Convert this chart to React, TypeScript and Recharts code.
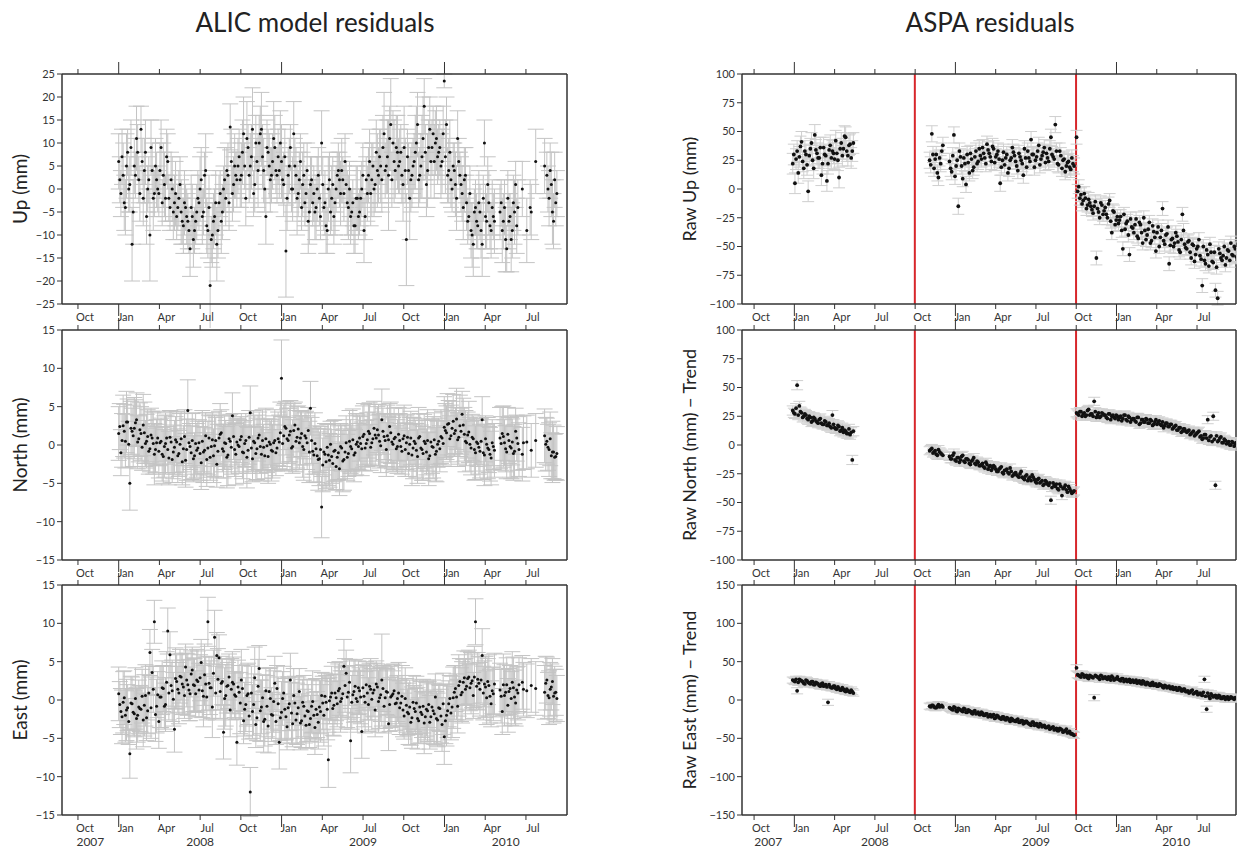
import React from 'react';
import { ScatterChart, Scatter, XAxis, YAxis, ErrorBar, ReferenceLine } from 'recharts';

const FONT = 'Lato, "Open Sans", "DejaVu Sans", sans-serif';
const BORDER = '#333';
const STEP = 5 / 365.25; // one sample every 5 days; the "B" lists sit half a step later

// x axis: quarter ticks and their labels
const quarterTicks = [2007.75, 2008.0, 2008.25, 2008.5, 2008.75, 2009.0, 2009.25, 2009.5, 2009.75, 2010.0, 2010.25, 2010.5];
const quarterLabels = ['Oct', 'Jan', 'Apr', 'Jul', 'Oct', 'Jan', 'Apr', 'Jul', 'Oct', 'Jan', 'Apr', 'Jul'];
const years = [2007, 2008, 2009, 2010];

const alicDomain: [number, number] = [2007.652, 2010.752];
const aspaDomain: [number, number] = [2007.675, 2010.742];
const offsetEvents = [2008.748, 2009.749];

// y axis ticks
const mm25 = [-25, -20, -15, -10, -5, 0, 5, 10, 15, 20, 25];
const mm15 = [-15, -10, -5, 0, 5, 10, 15];
const mm100 = [-100, -75, -50, -25, 0, 25, 50, 75, 100];
const mm150 = [-150, -100, -50, 0, 50, 100, 150];

// ALIC residuals (mm), from 2008.0
const alicStart = 2008.0;
const alicUp = [
  6, -1, 3, -4, 8, 1, -12, 5, 11, 2, 13, -2, 8, 0, -10, 4, -1, 2,
  -1, 9, 3, -2, 6, -4, 0, -3, -6, -2, -5, -8, -4, -7, -13, -6, -9, -5,
  -3, 2, -5, 4, -9, -21, -10, -6, -12, -3, -7, 0, -2, 3, 13.5, -1, 5, 2,
  7, 3, 12, -2, 9, 5, 13, 1, 6, 10, 13, 4, -6, 8, 2, 6, 9, 3,
  4, 6, 1, -13.5, 3, 9, 0, 5, -2, 2, -4, 3, -1, -7, 1, -3, -5, 0,
  -2, 10, -4, -8, 0, -5, 1, -3, 3, 2, 4, -1, 1, -4, -6, -3, -8, -2,
  -5, 0, -9, 2, 3, -1, 5, 1, 4, 7, 2, 12, 5, 3, 14, 10, 4, 8,
  6, 3, 9, -11, 4, 2, 5, 8, 14, 3, 7, 18, 1, 9, 6, 12, 10, 7,
  9, 6, 23.5, 14, 4, 2, 5, 1, 11, 3, -1, 2, -3, -6, -9, -12, -4, -8,
  -5, -12, 10, -7, -3, -9, -6, null, null, -5, -9, -4, -13, -7, -11, -3, 1, -4,
  null, 0, null, -9, null, -5, null, 6, null, null, null, 5, 3, -2, 1, -7, -3,
];
const alicUpB = [
  2, 7, -3, 5, 0, 9, -5, 3, 8, -1, 6, 4, -6, 2, 9, -2, 5, 0,
  4, -3, 1, 7, -2, 2, -5, -1, -4, 1, -7, -3, -6, -9, -4, -11, -7, -2,
  0, -6, 3, -8, -4, -11, -7, -3, -9, -1, -5, 2, 4, -3, 6, 1, 3, 5,
  2, 8, 5, 11, 3, 7, -1, 10, 4, 12, 7, 0, 9, 5, 3, 11, 4, 7,
  10, 2, 7, -2, 5, 0, 12, 3, -1, 6, 1, -3, 4, -5, 2, -1, -4, 3,
  -6, 1, -3, -9, 2, -2, -6, 0, 4, -1, 2, 6, -3, 0, -5, -8, -2, -6,
  -2, 3, -6, -1, 6, 2, 0, 8, 3, 5, 9, 4, 7, 11, 2, 6, 9, 5,
  8, 1, 4, 7, -2, 3, 6, 10, 2, 5, 11, 8, 4, 13, 9, 6, 11, 8,
  5, 12, 7, 3, 8, 0, 4, -2, 6, 1, -4, 3, -7, -1, -10, -5, -7, -3,
  -9, -2, -6, 1, -8, -4, -7, null, null, -3, -7, -11, -2, -6, -9, -5, -8, null,
  null, null, null, null, -4, null, null, null, null, null, null, null, 0, 4, -5, 2, -1,
];
const alicUpErr = [
  6, 5, 7, 6, 5, 6, 8, 6, 7, 5, 5, 6, 7, 5, 10, 6, 5, 6,
  5, 6, 7, 5, 6, 5, 7, 6, 5, 6, 7, 6, 5, 6, 6, 7, 5, 6,
  6, 7, 5, 8, 6, 12, 7, 6, 8, 6, 7, 5, 6, 7, 5, 6, 7, 6,
  6, 7, 8, 6, 5, 7, 9, 6, 5, 6, 8, 7, 6, 5, 7, 6, 7, 6,
  6, 8, 7, 10, 6, 5, 7, 6, 8, 6, 5, 7, 6, 7, 6, 5, 6, 7,
  6, 7, 5, 6, 7, 5, 6, 7, 5, 6, 7, 6, 5, 7, 6, 5, 6, 7,
  5, 6, 7, 5, 6, 7, 5, 6, 8, 6, 7, 9, 6, 12, 10, 7, 6, 8,
  7, 6, 9, 10, 6, 7, 6, 8, 7, 6, 9, 6, 7, 6, 8, 6, 7, 6,
  6, 7, 1.5, 6, 7, 6, 5, 7, 6, 5, 6, 7, 6, 5, 6, 7, 6, 5,
  6, 7, 5, 6, 7, 6, 5, 6, 6, 6, 7, 6, 5, 6, 7, 6, 5, 6,
  6, 6, 6, 7, 6, 6, 6, 7, 6, 6, 6, 6, 5, 6, 7, 6, 5,
];
const alicUpErrB = [
  5, 6, 6, 7, 5, 6, 7, 5, 6, 6, 5, 7, 6, 5, 6, 7, 6, 5,
  6, 5, 7, 6, 5, 6, 6, 7, 5, 6, 5, 7, 6, 5, 7, 6, 5, 6,
  7, 6, 5, 6, 7, 5, 6, 7, 6, 5, 6, 7, 5, 6, 7, 6, 5, 6,
  6, 7, 5, 8, 6, 7, 5, 6, 8, 6, 7, 5, 6, 7, 6, 8, 5, 6,
  7, 5, 6, 7, 6, 5, 7, 6, 5, 6, 7, 5, 6, 7, 5, 6, 7, 6,
  5, 6, 7, 5, 6, 7, 6, 5, 6, 7, 5, 6, 7, 6, 5, 6, 7, 5,
  6, 7, 5, 6, 7, 8, 6, 7, 6, 8, 7, 6, 8, 7, 6, 9, 7, 6,
  6, 8, 7, 6, 9, 7, 6, 8, 6, 7, 9, 6, 8, 7, 6, 8, 7, 6,
  7, 6, 8, 6, 7, 5, 6, 7, 5, 6, 7, 6, 5, 6, 7, 5, 6, 7,
  6, 5, 7, 6, 5, 6, 7, 6, 6, 5, 6, 7, 6, 5, 6, 7, 6, 6,
  6, 6, 6, 6, 6, 6, 6, 6, 6, 6, 6, 6, 5, 6, 7, 6, 5,
];
const alicNorth = [
  1.5, -1, 2.5, 0.5, 3, -5, 1.8, 2.2, 3.3, 0.8, 1.5, 2.6, 0.2, 1.1, -0.5, 0.9, -1.2, 0.3,
  -0.8, 0.5, -1.5, 0.2, -0.6, 1.0, -1.9, -0.3, 0.4, -1.1, 0.8, -0.5, -2.0, 4.5, -0.2, 0.6, -1.4, -0.7,
  0.3, -2.3, -0.9, 1.2, -0.4, -1.6, 0.7, -0.1, -2.5, 0.9, 1.6, -0.8, 0.2, -1.3, 0.5, 3.8, -0.6, 0.4,
  -0.2, 1.1, -1.0, 0.6, -0.7, 4.2, -1.8, 0.3, -0.5, 1.3, -1.2, -0.3, 0.8, -1.5, 0.1, -0.8, 0.6, -0.4,
  0.4, 8.7, 1.2, 2.2, 0.6, 1.8, -0.2, 2.6, 1.0, 0.3, 1.5, -0.6, 0.9, 1.9, 4.8, -0.8, 0.2, -1.4,
  -1.8, -8.1, -0.9, -2.2, -1.3, 0.1, -2.4, -0.7, -1.6, -3.1, -0.4, -1.9, 0.3, -1.1, -0.2, 0.7, -1.0, 0.4,
  0.9, -0.5, 1.4, 0.2, 1.8, -0.3, 0.8, 1.3, 2.0, 0.5, 3.3, 1.1, -0.6, 0.7, 1.6, 0.1, 1.0, -0.2,
  0.6, -0.8, 1.2, 0.3, -1.1, 0.9, -0.4, 0.2, -1.5, 1.1, -0.6, 0.5, -0.9, -1.8, 0.4, -0.3, -1.2, 0.1,
  -0.5, 0.9, 2.3, 1.6, 2.8, 1.2, 3.1, 1.9, 0.7, 2.5, 4.0, 1.4, 0.3, 1.7, -0.4, 0.8, -1.0, 0.2,
  -0.8, 3.3, -1.3, 0.1, -0.6, -1.7, -0.2, null, null, 0.9, 1.5, 0.3, -0.9, 0.6, -0.4, -1.1, 1.8, 0.2,
  null, -1.2, null, 0.4, null, -0.7, null, 0.6, null, null, null, 1.2, 0.5, -0.6, -1.4, -0.9, -1.5,
];
const alicNorthB = [
  2.4, 0.6, 1.8, 3.0, 0.1, 2.2, 1.2, 2.9, 0.4, 2.0, -0.3, 1.6, 0.5, -0.8, 1.3, 0.2, -0.6, 0.9,
  0.3, -1.2, -0.2, 0.9, -1.7, 0.4, -0.9, 0.7, -1.4, 0.1, -2.2, 1.1, -0.6, 0.3, -1.0, -1.8, 0.2, -0.4,
  -1.1, 0.5, -0.7, -1.9, 0.9, -0.2, -1.4, 0.6, -0.8, 1.4, -0.5, 0.3, -1.6, 0.8, -0.3, 1.1, -1.2, 0.0,
  0.7, -0.9, 0.2, -1.6, 1.0, -0.4, 0.5, -1.1, 0.9, -0.2, 0.6, -1.4, -0.1, 0.4, -0.7, 0.3, -1.0, 0.8,
  1.6, 0.2, 2.4, 0.8, 1.3, -0.4, 1.9, 0.5, 2.1, 0.9, -0.2, 1.2, 0.3, -0.9, 0.6, -1.3, -0.5, -1.9,
  -0.6, -2.6, -1.2, -0.3, -2.0, -1.5, -0.8, -2.8, -1.0, -0.2, -2.1, -0.9, -1.6, 0.5, -0.5, -1.3, 0.1, -0.2,
  0.2, 1.1, -0.4, 0.7, 1.5, 0.3, 2.2, 0.9, 1.3, -0.1, 1.8, 0.6, 1.2, 2.4, 0.4, 0.8, -0.5, 1.4,
  -0.2, 0.8, -0.6, 1.0, 0.1, -1.3, 0.5, -0.7, 0.9, -0.4, -1.1, 0.2, 0.6, -1.4, -0.2, 0.7, -0.8, 0.5,
  1.1, 0.2, 1.9, 2.7, 0.8, 2.2, 1.5, 3.4, 1.0, 1.8, 2.6, 0.5, 1.3, 0.1, 1.0, -0.6, 0.4, -0.3,
  0.5, -1.0, 0.8, -0.4, -1.2, 0.3, -0.7, null, null, 0.2, 1.1, -0.5, 1.4, -0.2, 0.4, -0.8, 0.9, -0.6,
  null, 0.3, null, null, null, null, null, null, null, null, null, 0.1, -0.3, 0.8, -0.9, -1.6, -1.1,
];
const alicNorthErr = [
  3.5, 3, 4, 3.5, 3, 3.5, 3, 4, 3.5, 3, 3.5, 4, 3, 3.5, 3, 3.5, 4, 3,
  3.5, 3, 3.5, 4, 3, 3.5, 3, 3.5, 4, 3, 3.5, 3, 3.5, 4, 3, 3.5, 3, 3.5,
  3, 3.5, 4, 3, 3.5, 3, 3.5, 4, 3, 3.5, 3, 3.5, 3, 4, 3.5, 3, 3.5, 3,
  3.5, 3, 4, 3.5, 3, 3.5, 3, 3.5, 4, 3, 3.5, 3, 4, 3.5, 3, 3.5, 4, 3,
  3.5, 5, 4, 3.5, 3, 4, 3.5, 3, 4, 3.5, 3, 4, 3.5, 3, 3.5, 3, 4, 3.5,
  3.5, 4, 3, 3.5, 4, 3, 3.5, 4, 3, 3.5, 3, 4, 3.5, 3, 3.5, 4, 3, 3.5,
  3, 3.5, 4, 3, 3.5, 3, 3.5, 4, 3, 3.5, 4, 3, 3.5, 3, 4, 3.5, 3, 3.5,
  3.5, 3, 4, 3.5, 3, 3.5, 4, 3, 3.5, 3, 4, 3.5, 3, 3.5, 3, 4, 3.5, 3,
  3, 3.5, 4, 3.5, 3, 4, 3.5, 3, 3.5, 4, 3, 3.5, 3, 4, 3.5, 3, 3.5, 3,
  3.5, 3, 4, 3.5, 3, 3.5, 3, 3, 3, 4, 3.5, 3, 3.5, 3, 4, 3.5, 3, 3.5,
  3, 3.5, 3, 3.5, 3, 3.5, 3, 3.5, 3, 3, 3, 3.5, 3, 3.5, 3, 3.5, 3,
];
const alicNorthErrB = [
  3, 3.5, 3.5, 4, 3, 3.5, 4, 3, 3.5, 3.5, 3, 4, 3.5, 3, 3.5, 4, 3, 3.5,
  3, 3.5, 4, 3, 3.5, 4, 3.5, 3, 3.5, 4, 3, 3.5, 4, 3, 3.5, 3, 4, 3.5,
  3.5, 4, 3, 3.5, 3, 4, 3.5, 3, 3.5, 4, 3, 3.5, 4, 3, 3.5, 3, 4, 3.5,
  3, 3.5, 3, 4, 3.5, 3, 4, 3.5, 3, 3.5, 4, 3, 3.5, 3, 4, 3.5, 3, 3.5,
  4, 3.5, 3, 4, 3.5, 3, 3.5, 4, 3, 3.5, 4, 3, 3.5, 4, 3, 3.5, 3, 4,
  3, 3.5, 4, 3, 3.5, 3.5, 4, 3, 3.5, 3, 4, 3.5, 3, 4, 3, 3.5, 4, 3,
  3.5, 4, 3, 3.5, 4, 3, 3.5, 3, 4, 3.5, 3, 3.5, 4, 3, 3.5, 4, 3, 3.5,
  3, 4, 3.5, 3, 3.5, 4, 3, 3.5, 4, 3, 3.5, 3, 4, 3, 3.5, 3.5, 4, 3,
  3.5, 3, 3.5, 4, 3, 3.5, 3, 4, 3.5, 3, 3.5, 4, 3, 3.5, 3, 4, 3, 3.5,
  3, 3.5, 3, 4, 3.5, 3, 3.5, 3, 3, 3.5, 4, 3, 3.5, 4, 3, 3.5, 3, 3.5,
  3, 3.5, 3, 3, 3, 3, 3, 3, 3, 3, 3, 3.5, 3, 3.5, 4, 3, 3.5,
];
const alicEast = [
  0.8, -1.5, -0.3, -2.0, -1.0, -7.0, -0.5, -1.8, -2.4, -0.9, -1.2, -2.6, 0.6, -1.4, 6.2, 3.6, 10.2, -0.8,
  -2.8, 0.4, 1.5, -0.6, 9.0, 5.9, 1.2, -3.8, 2.4, 0.9, 3.0, 1.7, 4.3, 2.0, 0.8, 3.9, 1.9, 2.6,
  1.3, 4.9, 0.5, 2.1, 10.2, 1.6, -0.9, 8.2, 5.8, 5.5, 2.2, -4.2, 0.6, 1.9, -1.3, 2.3, 0.7, -5.5,
  1.0, 2.6, -2.7, -0.6, 0.8, -12.0, -1.5, 2.9, -2.3, 4.1, -0.9, -2.8, 1.2, -3.4, 0.2, -2.0, 2.2, 1.5,
  -5.5, -1.6, 0.9, -2.2, -1.0, 2.6, -3.1, -0.4, -1.8, 1.1, -2.7, -0.8, -3.3, -1.5, -2.4, -0.2, -3.6, -1.9,
  -0.9, 0.6, -2.0, -0.3, -7.8, 0.4, -1.1, 0.9, -0.5, 1.5, 0.2, 4.4, 3.5, 1.0, -5.3, 0.7, 1.8, -0.2,
  1.2, -4.1, 0.5, 2.0, -0.6, 1.4, 0.9, -1.3, 1.7, 0.3, 2.6, -0.8, 1.1, -3.1, 0.4, 0.8, -0.5, 0.2,
  -1.0, 0.5, -2.1, -0.7, -1.8, -2.9, -0.3, -1.5, -2.4, -0.9, -1.9, -3.0, -1.2, -0.6, -2.2, -1.4, 0.4, -2.6,
  -1.1, -3.2, -4.8, -2.0, -0.5, -1.7, 0.3, 1.5, -0.8, 2.4, 1.0, 2.9, 1.8, 3.0, 2.2, 0.6, 10.2, 2.7,
  1.4, 5.8, 2.1, 0.3, 1.9, -0.5, 0.8, null, null, 1.3, -1.5, 0.6, 2.0, 1.1, 0.2, 1.6, -0.4, 0.9,
  null, 2.3, null, 1.2, null, 1.9, null, 1.5, null, null, null, 1.0, 2.6, 0.3, 1.7, 0.5, 1.0,
];
const alicEastB = [
  -0.6, -2.2, 0.3, -1.3, -2.8, -0.4, -1.6, 0.2, -2.0, -1.1, 0.5, -0.7, -2.3, 0.9, -1.0, 1.4, -1.9, 0.7,
  0.4, 1.6, -0.8, 2.3, 0.9, 1.9, 0.1, 2.8, 1.4, 3.1, 2.1, 0.6, 2.6, 1.3, 3.4, 2.0, 0.8, 2.4,
  2.9, 1.2, 3.3, 0.4, 2.2, 1.6, 3.5, 0.9, 2.7, 1.1, 2.4, 0.2, 1.8, 3.0, 1.4, 2.1, 0.5, 1.7,
  -0.4, 1.5, -1.2, 0.6, -2.1, 0.9, -0.6, -3.2, 1.8, -1.4, 0.3, -2.5, -0.8, 1.1, -1.9, -0.2, -2.8, -0.5,
  -2.3, 0.2, -1.2, -3.5, -0.5, -1.7, 0.6, -2.6, -1.0, -3.0, -0.3, -2.1, -1.4, -3.2, -0.8, -2.0, -1.2, -2.9,
  -1.5, -0.4, 0.5, -1.2, -0.1, 0.9, -0.7, 0.3, 1.2, -0.2, 0.8, 1.9, 0.4, 2.3, -0.3, 1.1, 0.2, 1.6,
  0.4, 1.6, -0.3, 0.9, 1.8, 0.1, 1.3, 2.1, -0.2, 0.7, 1.5, 0.3, 1.0, -0.6, 0.6, 1.2, -0.4, 0.9,
  -0.4, -1.3, 0.2, -1.6, -0.9, -2.3, -1.1, -0.4, -2.7, -1.6, -0.8, -2.2, -1.4, -2.9, -0.9, -1.8, -2.4, -1.0,
  -2.1, -0.5, -2.7, -1.4, 0.2, -0.9, 1.0, 0.4, 1.9, 0.7, 2.3, 1.4, 2.8, 1.6, 2.5, 3.0, 1.8, 2.2,
  2.6, 0.9, 1.7, 2.4, 0.5, 1.2, 2.1, null, null, 0.5, 2.0, 1.0, -0.7, 1.5, 2.3, 0.4, 1.3, 2.0,
  null, 1.4, null, null, null, null, null, null, null, null, null, 2.2, 0.6, 1.4, 2.4, 0.9, 0.2,
];
const alicEastErr = [
  3.5, 3, 4, 3.5, 3, 3.2, 3.5, 3, 4, 3.5, 3, 3.5, 4, 3, 3, 3, 2.8, 3.5,
  3.5, 4, 3, 3.5, 3, 3, 4, 3, 3.5, 4, 3, 3.5, 3, 4, 3.5, 3, 3.5, 4,
  3.5, 3, 4, 3.5, 3.2, 3.5, 4, 3.5, 3, 3, 3.5, 3.5, 4, 3, 3.5, 4, 3, 3,
  3.5, 4, 3, 3.5, 4, 3.2, 3.5, 4, 3, 3, 3.5, 4, 3, 3.5, 4, 3, 3.5, 3,
  3.5, 4, 3.5, 3, 4, 3.5, 3, 3.5, 4, 3, 3.5, 4, 3, 3.5, 3, 4, 3.5, 3,
  3.5, 3, 4, 3.5, 3.6, 3, 3.5, 4, 3, 3.5, 4, 3.5, 3, 3.5, 4.2, 3, 3.5, 4,
  3, 3.5, 4, 3, 3.5, 4, 3, 3.5, 3, 4, 6, 3.5, 3, 3.5, 4, 3, 3.5, 3,
  3.5, 4, 3, 3.5, 4, 3, 3.5, 3, 4, 3.5, 3, 4, 3.5, 3, 3.5, 4, 3, 3.5,
  3, 3.5, 3.6, 4, 3, 3.5, 4, 3, 3.5, 3, 4, 3.5, 3, 3.5, 4, 3, 3, 3.5,
  3.5, 3.5, 3, 3.5, 4, 3, 3.5, 3, 3, 3.5, 3, 4, 3.5, 3, 3.5, 4, 3, 3.5,
  3, 3.5, 3, 3.5, 3, 3.5, 3, 3.5, 3, 3, 3, 3.5, 3, 3.5, 3, 3.5, 3,
];
const alicEastErrB = [
  3, 3.5, 3.5, 4, 3, 3.5, 3, 4, 3.5, 3, 3.5, 4, 3, 3.5, 4, 3, 3.5, 3,
  4, 3.5, 3, 4, 3.5, 3, 3.5, 4, 3, 3.5, 4, 3, 3.5, 4, 3, 3.5, 3, 4,
  3, 3.5, 4, 3, 3.5, 4, 3, 3.5, 4, 3.5, 3, 4, 3.5, 3, 4, 3.5, 3, 3.5,
  4, 3, 3.5, 4, 3, 3.5, 4, 3, 3.5, 4, 3, 3.5, 4, 3, 3.5, 4, 3, 3.5,
  3, 3.5, 4, 3, 3.5, 4, 3.5, 3, 4, 3.5, 3, 3.5, 4, 3, 3.5, 3, 4, 3.5,
  4, 3.5, 3, 4, 3, 3.5, 4, 3, 3.5, 4, 3, 3.5, 4, 3, 3.5, 4, 3, 3.5,
  3.5, 3, 4, 3.5, 3, 4, 3.5, 3, 4, 3.5, 3, 4, 3, 3.5, 4, 3.5, 3, 4,
  3, 3.5, 4, 3, 3.5, 4, 3, 3.5, 3, 4, 3.5, 3, 4, 3.5, 3, 4, 3.5, 3,
  3.5, 4, 3, 3.5, 3, 4, 3.5, 3, 4, 3.5, 3, 4, 3.5, 3, 3.5, 4, 3, 3.5,
  3, 3.5, 4, 3, 3.5, 3, 4, 3, 3, 3.5, 4, 3, 3.5, 3, 4, 3.5, 3, 3.5,
  3, 3.5, 3, 3, 3, 3, 3, 3, 3, 3, 3, 3.5, 3, 3.5, 3, 3.5, 3,
];

// ASPA: three segments split by the offset events
const aspaStarts = [2007.99, 2008.84, 2009.752];
const aspaUp1 = [22, 5, 33, 28, 41, 18, 30, -2, 35, 25, 47, 31, 27, 12, 36, 29, 22, 38, 33, 26, 31, 10, 40, 35, 45, 29, 39, 33];
const aspaUp1B = [30, 26, 14, 37, 24, 33, 21, 29, 40, 18, 34, 27, 36, 22, 30, 7, 34, 27, 31, 42, 25, 35, 29, 46, 33, 38, 27, 40];
const aspaUp2 = [
  25, 48, 18, 30, 10, 22, 38, null, null,
  24, 15, 47, 20, -15, 28, 9, 22, 30, 14, 26, 19, 33, 24,
  29, 36, 27, 39, 31, 24, 35, 28, 33, 5, 25, 21, 30, 18, 27, 32,
  24, 16, 28, 22, 35, 19, 27, 43, 30, 25, 33, 21, 29, 36,
  31, 24, 45, 28, 56, 22, 33, 18, 26, 20, 24, 17, 22,
];
const aspaUp2B = [
  21, 30, 26, 14, 27, 33, null, null, null,
  18, 29, 11, 25, 33, 20, 27, 4, 23, 31, 16, 28, 22, 35,
  26, 31, 22, 34, 28, 37, 23, 30, 26, 19, 32, 27, 14, 25, 36, 29,
  20, 31, 25, 12, 27, 33, 24, 30, 19, 28, 38, 26, 32, 23,
  27, 35, 30, 26, 33, 21, 29, 25, 15, 23, 19, 27, 20,
];
const aspaUp3 = [
  45, 2, -5, -10, -8, -14, -12,
  -18, -15, -60, -20, -12, -22,
  -16, -25, -10, -38, -20, -27,
  -30, -24, -52, -35, -28, -57, -33,
  -38, -26, -43, -31, -47, -36,
  -40, -29, -45, -37, -54, -33,
  -42, -17, -48, -39, -65, -44,
  -50, -38, -46, -55, -22, -48,
  -52, -45, -60, -49, -57, -50,
  -58, -84, -62, -53, -67, -55,
  -64, -88, -95, -56, -62, -50,
  -60, -54, -47, -58, -52,
];
const aspaUp3B = [
  -2, -8, -13, -4, -17, -9, -15,
  -21, -11, -17, -25, -14, -19,
  -22, -13, -28, -19, -31, -24,
  -27, -36, -22, -30, -40, -26, -34,
  -31, -41, -29, -38, -25, -44,
  -35, -47, -32, -42, -38, -50,
  -36, -45, -40, -33, -49, -43,
  -47, -41, -53, -44, -36, -51,
  -46, -55, -48, -63, -52, -44,
  -61, -50, -65, -57, -48, -63,
  -55, -68, -52, -60, -58, -66,
  -53, -62, -57, -50, -59,
];
const aspaNorth1 = [30, 27, 52, 34, 28, 25, 26, 22, 24, 21, 23, 20, 22, 19, 18, 20, 17, 16, 26, 15, 14, 16, 13, 11, 12, 10, 9, -13];
const aspaNorth1B = [28, 32, 26, 29, 24, 27, 23, 25, 20, 24, 21, 19, 23, 18, 21, 17, 19, 15, 18, 14, 17, 12, 15, 13, 10, 14, 11, 12];
const aspaNorth2 = [
  -5, -3, -6, -8, -4, -7, -9, null, null,
  -10, -12, -7, -14, -11, -13, -9, -15, -12, -16, -14, -11, -17, -15,
  -18, -16, -20, -17, -19, -22, -18, -21, -23, -20, -24, -22, -21, -25, -23, -26,
  -24, -27, -25, -28, -30, -26, -29, -31, -28, -32, -30, -33, -31, -34,
  -32, -35, -48, -33, -36, -38, -34, -44, -37, -39, -36, -40, -41,
];
const aspaNorth2B = [
  -4, -7, -5, -9, -6, -8, null, null, null,
  -12, -9, -13, -11, -15, -10, -14, -12, -13, -17, -13, -16, -14, -18,
  -17, -19, -15, -21, -18, -20, -19, -23, -21, -19, -25, -22, -24, -20, -27, -25,
  -26, -28, -23, -29, -27, -31, -28, -26, -30, -33, -29, -32, -35, -31,
  -34, -33, -37, -35, -34, -39, -36, -38, -35, -41, -38, -42, -40,
];
const aspaNorth3 = [
  28, 26, 29, 27, 25, 30, 26,
  27, 38, 24, 28, 25, 27,
  26, 23, 27, 25, 24, 26,
  22, 25, 23, 26, 21, 24, 22,
  23, 20, 24, 19, 22, 20,
  22, 19, 21, 18, 22, 20,
  18, 20, 17, 19, 16, 18,
  15, 17, 13, 15, 12, 14,
  11, 13, 10, 12, 9, 11,
  7, 5, 9, 6, 4, 8,
  25, -35, 3, 6, 2, 5,
  1, 3, 0, 2, 1,
];
const aspaNorth3B = [
  27, 29, 25, 28, 26, 31, 27,
  25, 29, 26, 24, 28, 26,
  24, 27, 22, 26, 23, 25,
  24, 21, 26, 22, 25, 20, 23,
  21, 24, 18, 22, 20, 23,
  19, 22, 17, 20, 18, 21,
  17, 15, 19, 16, 18, 14,
  16, 13, 15, 11, 14, 12,
  12, 9, 11, 8, 10, 12,
  8, 6, 9, 22, 7, 3,
  5, 8, 4, 7, 2, 4,
  2, 0, 3, -1, 2,
];
const aspaEast1 = [26, 24, 12, 27, 25, 22, 26, 23, 21, 24, 20, 22, 19, 21, 18, 20, -3, 17, 16, 18, 14, 15, 13, 14, 11, 12, 10, 11];
const aspaEast1B = [25, 27, 23, 26, 24, 21, 25, 22, 24, 20, 23, 21, 18, 22, 19, 17, 20, 16, 18, 15, 17, 13, 16, 12, 14, 11, 13, 9];
const aspaEast2 = [
  -8, -7, -9, -10, -6, -8, -9, null, null,
  -10, -12, -9, -14, -11, -13, -15, -12, -16, -14, -17, -15, -18, -16,
  -19, -17, -20, -18, -21, -22, -19, -23, -21, -24, -22, -25, -23, -26, -24, -27,
  -28, -25, -29, -27, -30, -28, -31, -33, -29, -32, -34, -31, -35, -33,
  -36, -34, -37, -35, -38, -40, -37, -39, -41, -38, -42, -44, -45,
];
const aspaEast2B = [
  -9, -7, -10, -8, -9, -7, null, null, null,
  -11, -13, -10, -15, -12, -14, -11, -16, -13, -15, -18, -14, -17, -19,
  -16, -20, -18, -22, -19, -21, -24, -20, -23, -25, -22, -26, -24, -28, -25, -27,
  -26, -29, -27, -31, -28, -30, -32, -29, -33, -31, -35, -32, -34, -36,
  -35, -38, -36, -39, -37, -40, -38, -42, -40, -43, -41, -44, -46,
];
const aspaEast3 = [
  42, 32, 30, 33, 31, 29, 32,
  30, 3, 31, 29, 32, 28,
  30, 27, 29, 31, 26, 28,
  27, 25, 28, 26, 24, 27, 25,
  23, 26, 24, 22, 25, 21,
  23, 20, 22, 19, 21, 18,
  20, 17, 19, 16, 18, 15,
  14, 16, 13, 15, 12, 14,
  11, 9, 12, 8, 10, 7,
  9, 6, 27, -12, 5, 8,
  4, 6, 3, 5, 2, 4,
  3, 1, 4, 2, 3,
];
const aspaEast3B = [
  33, 31, 34, 30, 32, 28, 31,
  29, 32, 30, 27, 31, 29,
  28, 30, 26, 29, 27, 30,
  26, 28, 24, 27, 25, 23, 26,
  24, 22, 25, 21, 24, 20,
  22, 19, 23, 20, 18, 21,
  19, 16, 18, 17, 15, 17,
  15, 13, 16, 12, 14, 11,
  12, 10, 13, 9, 11, 8,
  7, 10, 5, 9, 2, 6,
  5, 3, 6, 2, 4, 1,
  4, 2, 3, 1, 2,
];
const aspaUpErr = [9, 7, 6];
const aspaNorthErr = [4, 3.5, 3.5];
const aspaEastErr = [4, 4, 4];

type Pt = { t: number; v: number; e: number };

function series(start: number, vals: (number | null)[], errs: number[] | number): Pt[] {
  const out: Pt[] = [];
  vals.forEach((v, i) => {
    if (v === null) return;
    out.push({ t: start + i * STEP, v, e: Array.isArray(errs) ? errs[i] : errs });
  });
  return out;
}

function aspa(a: (number | null)[][], b: (number | null)[][], errs: number[]): Pt[] {
  return [
    ...a.flatMap((s, k) => series(aspaStarts[k], s, errs[k])),
    ...b.flatMap((s, k) => series(aspaStarts[k] + STEP / 2, s, errs[k])),
  ];
}

const upData = [...series(alicStart, alicUp, alicUpErr), ...series(alicStart + STEP / 2, alicUpB, alicUpErrB)];
const northData = [...series(alicStart, alicNorth, alicNorthErr), ...series(alicStart + STEP / 2, alicNorthB, alicNorthErrB)];
const eastData = [...series(alicStart, alicEast, alicEastErr), ...series(alicStart + STEP / 2, alicEastB, alicEastErrB)];
const rawUpData = aspa([aspaUp1, aspaUp2, aspaUp3], [aspaUp1B, aspaUp2B, aspaUp3B], aspaUpErr);
const rawNorthData = aspa([aspaNorth1, aspaNorth2, aspaNorth3], [aspaNorth1B, aspaNorth2B, aspaNorth3B], aspaNorthErr);
const rawEastData = aspa([aspaEast1, aspaEast2, aspaEast3], [aspaEast1B, aspaEast2B, aspaEast3B], aspaEastErr);

const minus = (v: number) => (v < 0 ? '\u2212' + Math.abs(v) : String(v));
const isJan = (v: number) => Math.abs(v - Math.round(v)) < 1e-6;

type PanelProps = {
  left: number;
  top: number;
  plotW: number;
  data: Pt[];
  xDomain: [number, number];
  yDomain: [number, number];
  yTicks: number[];
  withYears?: boolean;
  events?: number[];
  capW: number;
  errColor: string;
  dotR: number;
};

const PLOT_H = 230;
const AXW = 48;
const TOPH = 14;

function Panel({ left, top, plotW, data, xDomain, yDomain, yTicks, withYears, events = [], capW, errColor, dotR }: PanelProps) {
  // year labels sit in the middle of the visible part of each year
  const yearPos = withYears
    ? years.map((y) => (Math.max(xDomain[0], y) + Math.min(xDomain[1], y + 1)) / 2 + 1e-6)
    : [];
  const bottomTicks = [...quarterTicks, ...yearPos];
  const botH = withYears ? 40 : 24;

  const dot = (p: any) => <circle cx={p.cx} cy={p.cy} r={dotR} fill="#111" />;
  const topTick = (p: any) => {
    const len = isJan(p.payload.value) ? 12 : 5;
    return <line x1={p.x} y1={p.y} x2={p.x} y2={p.y - len} stroke={BORDER} strokeWidth={1} />;
  };
  const bottomTick = (p: any) => {
    const v = p.payload.value;
    const yi = yearPos.indexOf(v);
    if (yi >= 0) {
      return (
        <text x={p.x} y={p.y + 31} textAnchor="middle" fontSize={12} fill="#333" fontFamily={FONT}>
          {years[yi]}
        </text>
      );
    }
    const qi = quarterTicks.indexOf(v);
    const len = isJan(v) ? 12 : 5;
    return (
      <g>
        <line x1={p.x} y1={p.y} x2={p.x} y2={p.y + len} stroke={BORDER} strokeWidth={1} />
        <text x={p.x + 7} y={p.y + 17} textAnchor="middle" fontSize={11} fill="#333" fontFamily={FONT}>
          {quarterLabels[qi]}
        </text>
      </g>
    );
  };

  return (
    <div style={{ position: 'absolute', left: left - AXW, top: top - TOPH }}>
      <ScatterChart width={AXW + plotW + 2} height={TOPH + PLOT_H + botH} margin={{ top: 0, right: 2, bottom: 0, left: 0 }}>
        <XAxis
          xAxisId="top"
          orientation="top"
          type="number"
          dataKey="t"
          domain={xDomain}
          allowDataOverflow
          ticks={quarterTicks}
          interval={0}
          height={TOPH}
          tickSize={0}
          tickMargin={0}
          tickLine={false}
          tick={topTick}
          axisLine={{ stroke: BORDER, strokeWidth: 1.5 }}
        />
        <XAxis
          xAxisId="b"
          orientation="bottom"
          type="number"
          dataKey="t"
          domain={xDomain}
          allowDataOverflow
          ticks={bottomTicks}
          interval={0}
          height={botH}
          tickSize={0}
          tickMargin={0}
          tickLine={false}
          tick={bottomTick}
          axisLine={{ stroke: BORDER, strokeWidth: 1.5 }}
        />
        <YAxis
          yAxisId="y"
          type="number"
          dataKey="v"
          domain={yDomain}
          allowDataOverflow
          ticks={yTicks}
          interval={0}
          width={AXW}
          tickSize={5}
          tickMargin={2}
          tickFormatter={minus}
          tick={{ fontSize: 11, fill: '#333', fontFamily: FONT }}
          tickLine={{ stroke: BORDER }}
          axisLine={{ stroke: BORDER, strokeWidth: 1.5 }}
        />
        <ReferenceLine xAxisId="b" yAxisId="y" x={xDomain[1]} stroke={BORDER} strokeWidth={1.5} />
        {events.map((x) => (
          <ReferenceLine key={x} xAxisId="b" yAxisId="y" x={x} stroke="#d7262b" strokeWidth={2} />
        ))}
        <Scatter xAxisId="b" yAxisId="y" data={data} shape={dot} isAnimationActive={false}>
          <ErrorBar dataKey="e" direction="y" width={capW} stroke={errColor} strokeWidth={1} isAnimationActive={false} />
        </Scatter>
      </ScatterChart>
    </div>
  );
}

const panelTops = [74, 330, 585];

export default function App() {
  const leftL = 62;
  const rightL = 742;
  const txt = { fontFamily: FONT, fill: '#222' } as const;
  return (
    <div style={{ position: 'absolute', left: 0, top: 0, width: 1237, height: 852, background: '#fff', overflow: 'hidden' }}>
      <svg width={1237} height={852} style={{ position: 'absolute', left: 0, top: 0 }}>
        <text x={315} y={32} textAnchor="middle" fontSize={26} {...txt}>ALIC model residuals</text>
        <text x={990} y={32} textAnchor="middle" fontSize={26} {...txt}>ASPA residuals</text>
        <text transform="translate(27,189) rotate(-90)" textAnchor="middle" fontSize={19} {...txt}>Up (mm)</text>
        <text transform="translate(27,445) rotate(-90)" textAnchor="middle" fontSize={19} {...txt}>North (mm)</text>
        <text transform="translate(27,700) rotate(-90)" textAnchor="middle" fontSize={19} {...txt}>East (mm)</text>
        <text transform="translate(696,189) rotate(-90)" textAnchor="middle" fontSize={18} {...txt}>Raw Up (mm)</text>
        <text transform="translate(696,445) rotate(-90)" textAnchor="middle" fontSize={18} {...txt}>Raw North (mm) − Trend</text>
        <text transform="translate(696,700) rotate(-90)" textAnchor="middle" fontSize={18} {...txt}>Raw East (mm) − Trend</text>
      </svg>
      <Panel left={leftL} top={panelTops[0]} plotW={505} data={upData} xDomain={alicDomain} yDomain={[-25, 25]} yTicks={mm25} capW={8} errColor="#c4c4c4" dotR={1.5} />
      <Panel left={leftL} top={panelTops[1]} plotW={505} data={northData} xDomain={alicDomain} yDomain={[-15, 15]} yTicks={mm15} capW={8} errColor="#c4c4c4" dotR={1.5} />
      <Panel left={leftL} top={panelTops[2]} plotW={505} data={eastData} xDomain={alicDomain} yDomain={[-15, 15]} yTicks={mm15} capW={8} errColor="#c4c4c4" dotR={1.5} withYears />
      <Panel left={rightL} top={panelTops[0]} plotW={494} data={rawUpData} xDomain={aspaDomain} yDomain={[-100, 100]} yTicks={mm100} capW={6} errColor="#cfcfcf" dotR={1.9} events={offsetEvents} />
      <Panel left={rightL} top={panelTops[1]} plotW={494} data={rawNorthData} xDomain={aspaDomain} yDomain={[-100, 100]} yTicks={mm100} capW={6} errColor="#cfcfcf" dotR={1.9} events={offsetEvents} />
      <Panel left={rightL} top={panelTops[2]} plotW={494} data={rawEastData} xDomain={aspaDomain} yDomain={[-150, 150]} yTicks={mm150} capW={6} errColor="#cfcfcf" dotR={1.9} events={offsetEvents} withYears />
    </div>
  );
}
